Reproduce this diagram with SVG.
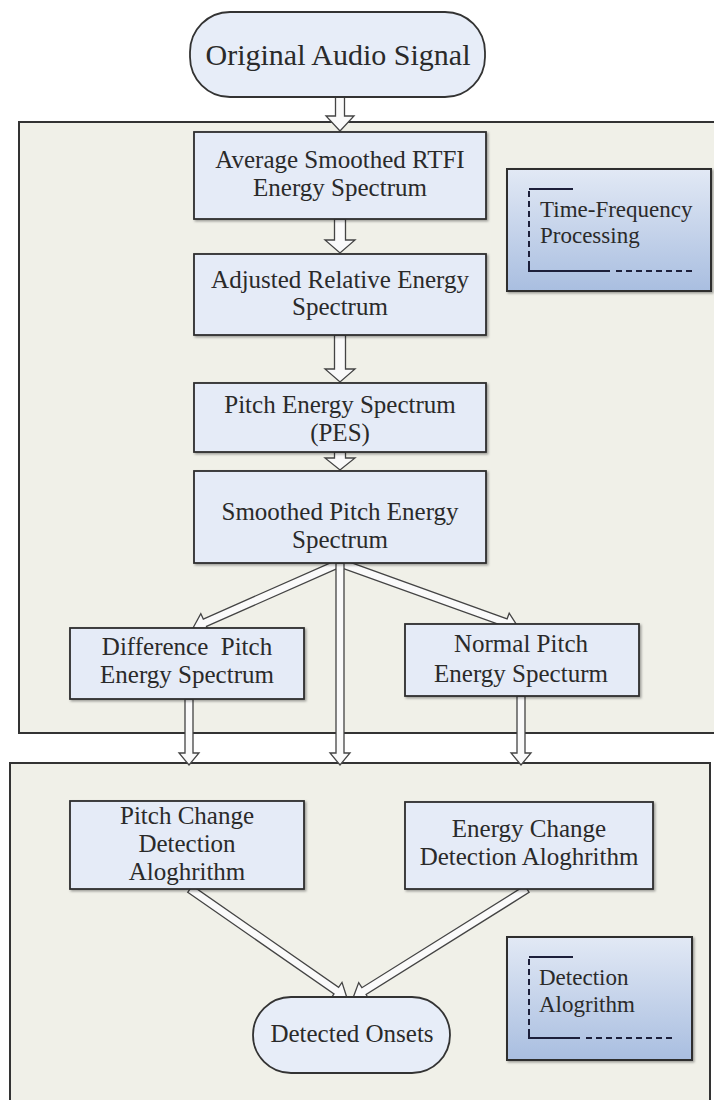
<svg xmlns="http://www.w3.org/2000/svg" width="714" height="1100" viewBox="0 0 714 1100">
  <defs>
    <linearGradient id="legendFill" x1="0" y1="0" x2="0" y2="1">
      <stop offset="0" stop-color="#e2e9f5"/>
      <stop offset="1" stop-color="#a9bee0"/>
    </linearGradient>
    <filter id="shadow" x="-5%" y="-5%" width="115%" height="120%">
      <feDropShadow dx="1.5" dy="1.5" stdDeviation="0.8" flood-color="#000" flood-opacity="0.35"/>
    </filter>
  </defs>
  <style>
    .panel { fill: #f0f0e8; stroke: #333; stroke-width: 2; }
    .box { fill: #e5ebf7; stroke: #2e2e2e; stroke-width: 1.8; filter: url(#shadow); }
    .term { fill: #e7edf8; stroke: #333; stroke-width: 1.8; }
    .legend { fill: url(#legendFill); stroke: #2e2e2e; stroke-width: 2; filter: url(#shadow); }
    .arrow { fill: #fafafa; stroke: #444; stroke-width: 1.3; stroke-linejoin: miter; }
    .lbl { font-family: "Liberation Serif", "Times New Roman", serif; font-size: 25px; fill: #2a2a2a; text-anchor: middle; }
    .leg { font-family: "Liberation Serif", "Times New Roman", serif; font-size: 23px; fill: #2a2a2a; }
    .brk { stroke: #1c1f3a; stroke-width: 2; fill: none; }
    .brk-dash { stroke: #1c1f3a; stroke-width: 2; fill: none; stroke-dasharray: 6 4; }
  </style>

  <rect width="714" height="1100" fill="#ffffff"/>

  <!-- stage panels -->
  <g id="panel-tf">
    <rect class="panel" x="19" y="122" width="700" height="611"/>
  </g>
  <g id="panel-detect">
    <rect class="panel" x="10" y="763" width="700" height="345"/>
  </g>

  <!-- hollow block arrows -->
  <g id="connectors">
    <polygon class="arrow" points="335.5,97 344.5,97 344.5,116 354,116 340,131 326,116 335.5,116"/>
    <polygon class="arrow" points="334.5,219 345.5,219 345.5,240 355,240 340,253 325,240 334.5,240"/>
    <polygon class="arrow" points="334.5,335 345.5,335 345.5,369 355,369 340,382 325,369 334.5,369"/>
    <polygon class="arrow" points="334.5,452 345.5,452 345.5,458 355,458 340,470 325,458 334.5,458"/>
    <!-- fan-out from the smoothed spectrum -->
    <polygon class="arrow" points="338.4,559.3 203.3,619.1 200.8,613.6 193,628 208.9,631.9 206.5,626.4 341.6,566.7"/>
    <polygon class="arrow" points="338.7,566.8 504.4,626.4 502.4,632 518,627 509.2,613.2 507.1,618.8 341.4,559.2"/>
    <polygon class="arrow" points="336,563 344,563 344,753 350,753 340,765 330,753 336,753"/>
    <polygon class="arrow" points="185,699 193,699 193,753 199,753 189,765 179,753 185,753"/>
    <polygon class="arrow" points="517,696 525,696 525,753 531,753 521,765 511,753 517,753"/>
    <!-- merge into the onsets -->
    <polygon class="arrow" points="187.7,892.3 334,993.9 330.6,998.8 347,998 342,982.4 338.6,987.3 192.3,885.7"/>
    <polygon class="arrow" points="524.9,885.6 361.9,987.7 358.7,982.6 353,998 369.3,999.6 366.1,994.5 529.1,892.4"/>
  </g>

  <g id="original-audio">
    <rect class="term" x="190" y="12" width="295" height="85" rx="40" ry="40"/>
    <text class="lbl" x="338" y="65" style="font-size:30px">Original Audio Signal</text>
  </g>

  <g id="rtfi-spectrum">
    <rect class="box" x="194" y="132" width="292" height="87"/>
    <text class="lbl" x="340" y="168">Average Smoothed RTFI</text>
    <text class="lbl" x="340" y="196">Energy Spectrum</text>
  </g>

  <g id="relative-spectrum">
    <rect class="box" x="194" y="254" width="292" height="81"/>
    <text class="lbl" x="340" y="288">Adjusted Relative Energy</text>
    <text class="lbl" x="340" y="315">Spectrum</text>
  </g>

  <g id="pes">
    <rect class="box" x="194" y="383" width="292" height="69"/>
    <text class="lbl" x="340" y="413">Pitch Energy Spectrum</text>
    <text class="lbl" x="340" y="441">(PES)</text>
  </g>

  <g id="smoothed-pes">
    <rect class="box" x="194" y="471" width="292" height="92"/>
    <text class="lbl" x="340" y="520">Smoothed Pitch Energy</text>
    <text class="lbl" x="340" y="548">Spectrum</text>
  </g>

  <g id="difference-pes">
    <rect class="box" x="70" y="628" width="234" height="71"/>
    <text class="lbl" x="187" y="655" xml:space="preserve">Difference  Pitch</text>
    <text class="lbl" x="187" y="683">Energy Spectrum</text>
  </g>

  <g id="normal-pes">
    <rect class="box" x="405" y="624" width="234" height="72"/>
    <text class="lbl" x="521" y="652">Normal Pitch</text>
    <text class="lbl" x="521" y="682">Energy Specturm</text>
  </g>

  <g id="legend-tf">
    <rect class="legend" x="507" y="169" width="204" height="122"/>
    <polyline class="brk" points="573,189 529,189"/>
    <line class="brk-dash" x1="529" y1="191" x2="529" y2="269"/>
    <polyline class="brk" points="529,265 529,271 610,271"/>
    <line class="brk-dash" x1="616" y1="271" x2="694" y2="271"/>
    <text class="leg" x="540" y="217">Time-Frequency</text>
    <text class="leg" x="540" y="243">Processing</text>
  </g>

  <g id="pitch-change">
    <rect class="box" x="70" y="801" width="234" height="88"/>
    <text class="lbl" x="187" y="824">Pitch Change</text>
    <text class="lbl" x="187" y="852">Detection</text>
    <text class="lbl" x="187" y="880">Aloghrithm</text>
  </g>

  <g id="energy-change">
    <rect class="box" x="405" y="802" width="248" height="87"/>
    <text class="lbl" x="529" y="837">Energy Change</text>
    <text class="lbl" x="529" y="865">Detection Aloghrithm</text>
  </g>

  <g id="detected-onsets">
    <rect class="term" x="253" y="997" width="197" height="76" rx="38" ry="38"/>
    <text class="lbl" x="352" y="1042">Detected Onsets</text>
  </g>

  <g id="legend-detect">
    <rect class="legend" x="507" y="937" width="185" height="123"/>
    <polyline class="brk" points="573,957 529,957"/>
    <line class="brk-dash" x1="529" y1="959" x2="529" y2="1036"/>
    <polyline class="brk" points="529,1032 529,1038 580,1038"/>
    <line class="brk-dash" x1="586" y1="1038" x2="672" y2="1038"/>
    <text class="leg" x="539" y="985">Detection</text>
    <text class="leg" x="539" y="1012">Alogrithm</text>
  </g>
</svg>
